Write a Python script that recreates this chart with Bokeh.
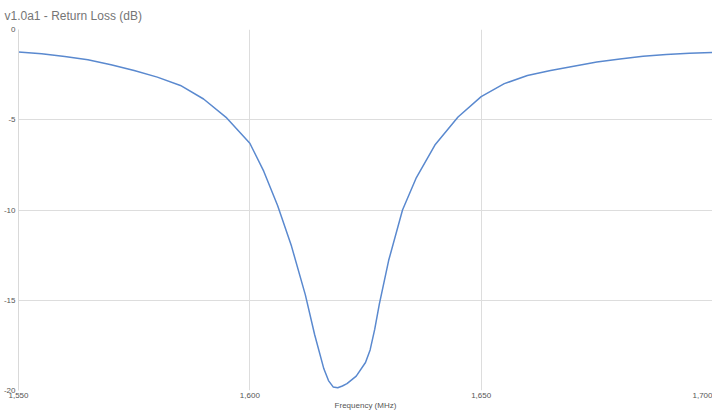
from bokeh.plotting import figure
from bokeh.models import NumeralTickFormatter, FixedTicker, Range1d
from bokeh.embed import file_html
from bokeh.resources import INLINE

title_text = "v1.0a1 - Return Loss (dB)"
x_label = "Frequency (MHz)"

freq_mhz = [1550, 1555, 1560, 1565, 1570, 1575, 1580, 1585, 1590, 1595,
            1600, 1603, 1606, 1609, 1612, 1614, 1616, 1617, 1618, 1619, 1620,
            1621, 1623, 1625, 1626, 1627, 1628, 1630, 1633, 1636, 1640, 1645, 1650,
            1655, 1660, 1665, 1670, 1675, 1680, 1685, 1690, 1695, 1700]
return_loss_db = [-1.24, -1.35, -1.50, -1.68, -1.95, -2.27, -2.64, -3.10, -3.85, -4.90,
                  -6.30, -7.85, -9.75, -12.0, -14.7, -16.9, -18.8, -19.45, -19.8, -19.85, -19.75,
                  -19.62, -19.2, -18.45, -17.75, -16.6, -15.2, -12.8, -10.0, -8.2, -6.4, -4.85, -3.72,
                  -3.0, -2.55, -2.27, -2.03, -1.80, -1.63, -1.48, -1.38, -1.32, -1.28]

x_ticks = [1550, 1600, 1650, 1700]
y_ticks = [-20, -15, -10, -5, 0]

p = figure(width=712, height=412, output_backend="svg", toolbar_location=None,
           x_range=Range1d(1550, 1700), y_range=Range1d(-20, 0),
           min_border_left=14, min_border_right=0, min_border_top=0, min_border_bottom=0)

p.title.text = title_text
p.title.text_font = "Liberation Sans"
p.title.text_font_size = "12px"
p.title.text_font_style = "normal"
p.title.text_color = "#757575"
p.title.offset = -14
p.title.standoff = 13

p.outline_line_color = None
p.background_fill_color = "white"
p.border_fill_color = "white"

for ax in (p.xaxis[0], p.yaxis[0]):
    ax.major_tick_line_color = None
    ax.minor_tick_line_color = None
    ax.major_tick_out = 0
    ax.major_tick_in = 0
    ax.minor_tick_out = 0
    ax.minor_tick_in = 0
    ax.major_label_text_font = "Liberation Sans"
    ax.major_label_text_font_size = "8px"
    ax.major_label_text_color = "#555555"
    ax.major_label_standoff = 3
p.xaxis[0].major_label_standoff = 2
p.xaxis[0].axis_line_color = None
p.yaxis[0].axis_line_color = "#d9d9d9"

p.xaxis.ticker = FixedTicker(ticks=x_ticks)
p.yaxis.ticker = FixedTicker(ticks=y_ticks)
p.xaxis.formatter = NumeralTickFormatter(format="0,0")
p.yaxis.formatter = NumeralTickFormatter(format="0")

p.xaxis.axis_label = x_label
p.xaxis.axis_label_text_font = "Liberation Sans"
p.xaxis.axis_label_text_font_size = "8px"
p.xaxis.axis_label_text_font_style = "normal"
p.xaxis.axis_label_text_color = "#555555"
p.xaxis.axis_label_standoff = 0

p.xgrid.grid_line_color = "#dddddd"
p.ygrid.grid_line_color = "#dddddd"
p.xgrid.grid_line_width = 1
p.ygrid.grid_line_width = 1

p.line(freq_mhz, return_loss_db, line_color="#5a89cf", line_width=1.5)

open("out.html", "w").write(file_html(p, INLINE))
